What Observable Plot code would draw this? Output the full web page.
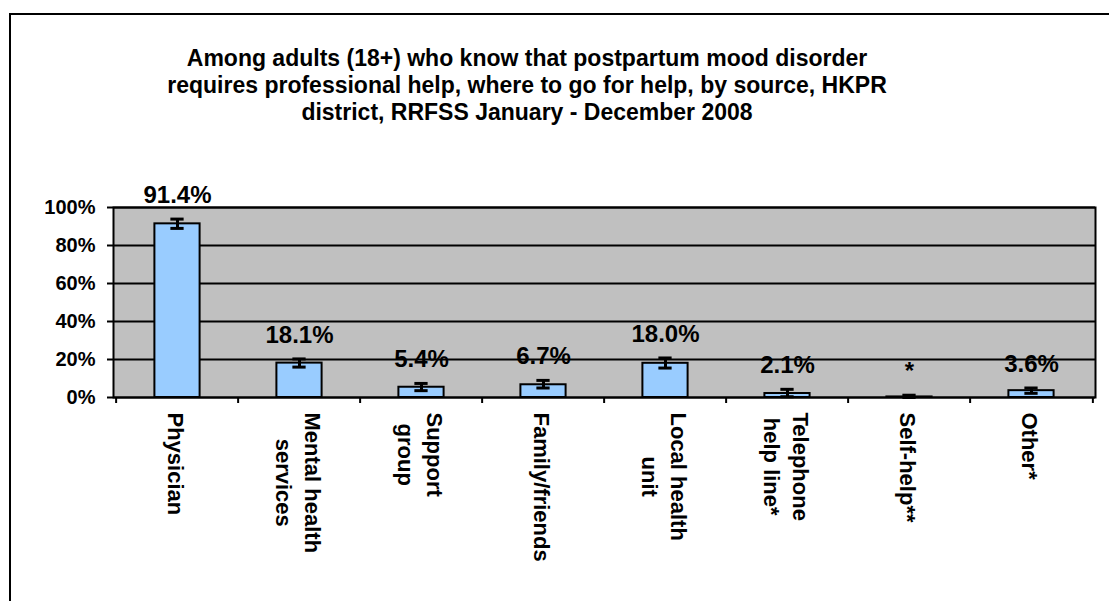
<!DOCTYPE html>
<html>
<head>
<meta charset="utf-8">
<script src="https://cdn.jsdelivr.net/npm/d3@7"></script>
<script src="https://cdn.jsdelivr.net/npm/@observablehq/plot@0.6"></script>
<style>
  html, body { margin: 0; padding: 0; background: #fff; overflow: hidden; }
  body { width: 1109px; height: 601px; position: relative; font-family: "Liberation Sans", Arial, sans-serif; }
  #border { position: absolute; left: 9px; top: 13px; width: 1200px; height: 700px; border: 2px solid #000; box-sizing: border-box; pointer-events: none; }
  #title { position: relative; margin: 0; padding-top: 45px; width: 1054px; text-align: center; font-weight: bold; font-size: 23px; line-height: 27px; color: #000; }
  #chart { display: block; }
</style>
</head>
<body>
<div id="border"></div>
<div id="title">Among adults (18+) who know that postpartum mood disorder<br>requires professional help, where to go for help, by source, HKPR<br>district, RRFSS January - December 2008</div>
<div id="chart"></div>
<script>
const categories = ["Physician", "Mental health\nservices", "Support\ngroup", "Family/friends", "Local health\nunit", "Telephone\nhelp line*", "Self-help**", "Other*"];
const values = [91.4, 18.1, 5.4, 6.7, 18.0, 2.1, 0.3, 3.6];
const lower = [89.0, 16.0, 3.6, 5.0, 15.5, 0.4, 0.0, 2.2];
const upper = [93.9, 20.3, 7.4, 9.0, 20.8, 4.3, 1.2, 5.0];
const valueLabels = ["91.4%", "18.1%", "5.4%", "6.7%", "18.0%", "2.1%", "*", "3.6%"];
const yTicks = [0, 20, 40, 60, 80, 100];

const data = categories.map((c, i) => ({cat: c, value: values[i], lo: lower[i], hi: upper[i], label: valueLabels[i]}));

const W = 1109, H = 475;
const mL = 113, mR = W - 1095, mT = 81, mB = 204;
const step = (W - mL - mR) / categories.length;

const ctx = document.createElement("canvas").getContext("2d");
ctx.font = "bold 22px 'Liberation Sans'";
const longest = c => Math.max(...c.split("\n").map(s => ctx.measureText(s).width));

const labelMarks = categories.map(c =>
  Plot.text([c], {x: d => d, text: d => d, frameAnchor: "bottom", rotate: 90, textAnchor: "middle", lineAnchor: "middle", lineHeight: 1.3, fontSize: 22, fontWeight: "bold", fill: "#000", dy: 15 + longest(c) / 2})
);

const plot = Plot.plot({
  width: W, height: H,
  marginLeft: mL, marginRight: mR, marginTop: mT, marginBottom: mB,
  style: {fontFamily: "'Liberation Sans', Arial, sans-serif", color: "#000", background: "transparent", overflow: "visible"},
  x: {domain: categories, padding: 0, axis: null, label: null},
  y: {domain: [0, 100], axis: null, label: null},
  marks: [
    Plot.frame({fill: "#c0c0c0"}),
    Plot.gridY(yTicks, {stroke: "#000", strokeOpacity: 1, strokeWidth: 2}),
    Plot.barY(data, {x: "cat", y: "value", fill: "#99ccff", stroke: "#000", strokeWidth: 2, insetLeft: 38.4, insetRight: 38.4}),
    Plot.ruleX(data, {x: "cat", y1: "lo", y2: "hi", stroke: "#000", strokeWidth: 3}),
    Plot.tickY(data, {x: "cat", y: "lo", stroke: "#000", strokeWidth: 3, insetLeft: (step - 14) / 2, insetRight: (step - 14) / 2}),
    Plot.tickY(data, {x: "cat", y: "hi", stroke: "#000", strokeWidth: 3, insetLeft: (step - 14) / 2, insetRight: (step - 14) / 2}),
    Plot.frame({stroke: "#000", strokeWidth: 2}),
    Plot.axisY(yTicks, {tickSize: 6, tickPadding: 12, tickFormat: d => d + "%", fontSize: 20, fontWeight: "bold", stroke: "#000", strokeWidth: 2, label: null}),
    Plot.axisX(categories, {tickSize: 6, text: null, label: null, dx: -step / 2, stroke: "#000", strokeWidth: 2}),
    Plot.axisX([categories[categories.length - 1]], {tickSize: 6, text: null, label: null, dx: step / 2, stroke: "#000", strokeWidth: 2}),
    Plot.text(data, {x: "cat", y: "hi", text: "label", lineAnchor: "bottom", dy: -16, fontSize: 24, fontWeight: "bold", fill: "#000"}),
    ...labelMarks
  ]
});
document.getElementById("chart").appendChild(plot);
</script>
</body>
</html>
